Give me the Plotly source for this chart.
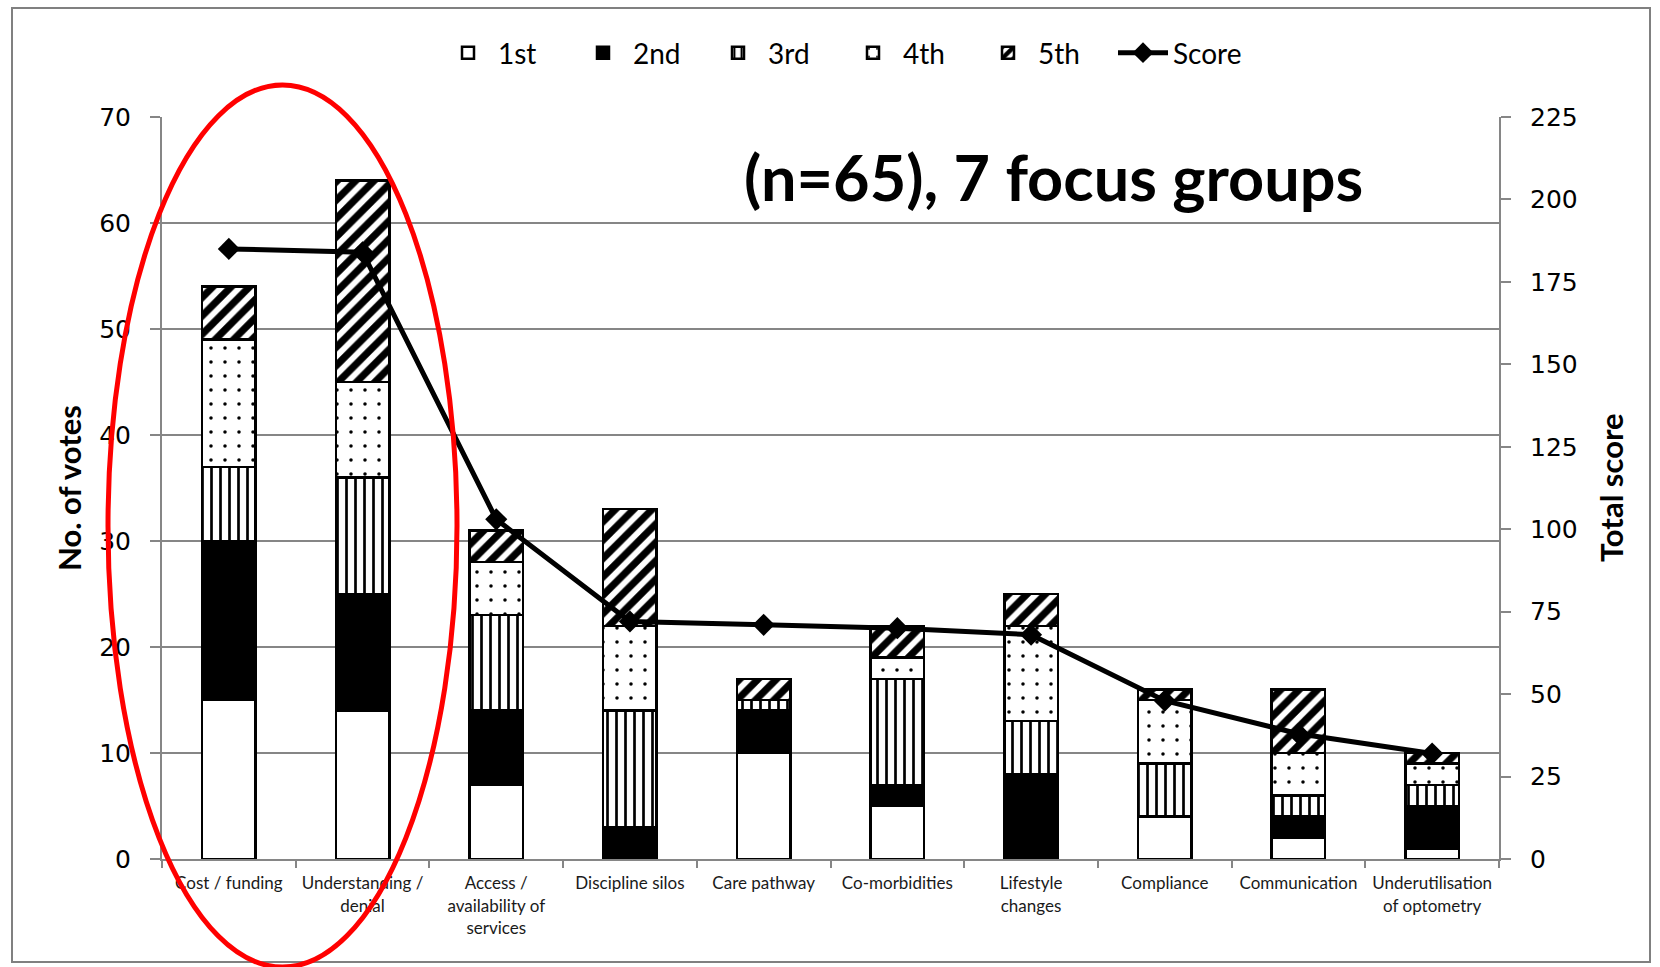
import plotly.graph_objects as go

# Barrier categories (x axis)
categories = [
    "Cost / funding",
    "Understanding /<br>denial",
    "Access /<br>availability of<br>services",
    "Discipline silos",
    "Care pathway",
    "Co-morbidities",
    "Lifestyle<br>changes",
    "Compliance",
    "Communication",
    "Underutilisation<br>of optometry",
]

# Number of votes at each ranking position
votes_1st = [15, 14, 7, 0, 10, 5, 0, 4, 2, 1]
votes_2nd = [15, 11, 7, 3, 4, 2, 8, 0, 2, 4]
votes_3rd = [7, 11, 9, 11, 1, 10, 5, 5, 2, 2]
votes_4th = [12, 9, 5, 8, 0, 2, 9, 6, 4, 2]
votes_5th = [5, 19, 3, 11, 2, 3, 3, 1, 6, 1]

# Weighted total score per category (right axis)
total_score = [185, 184, 103, 72, 71, 70, 68, 48, 38, 32]

left_ticks = list(range(0, 71, 10))
right_ticks = list(range(0, 226, 25))

# Plot area geometry in pixels
W, H = 1660, 967
PL, PR, PT, PB = 162, 1499, 117, 859


def px_x(x):
    return (x - PL) / (PR - PL)


def px_y(y):
    return (PB - y) / (PB - PT)


GRID = "#868686"
LABEL_FONT = "Lato"
NUM_FONT = "DejaVu Sans"

fig = go.Figure()

rank_series = [
    ("1st", votes_1st, dict(color="white")),
    ("2nd", votes_2nd, dict(color="black")),
    ("3rd", votes_3rd, dict(color="white", pattern=dict(shape="|", fgcolor="black", bgcolor="white", fgopacity=1, size=9, solidity=0.3))),
    ("4th", votes_4th, dict(color="white", pattern=dict(shape=".", fgcolor="black", bgcolor="white", fgopacity=1, size=14, solidity=0.05))),
    ("5th", votes_5th, dict(color="white", pattern=dict(shape="/", fgcolor="black", bgcolor="white", fgopacity=1, size=13, solidity=0.55))),
]

for name, vals, mk in rank_series:
    mk = dict(mk)
    mk["line"] = dict(color="black", width=2.5)
    fig.add_trace(go.Bar(
        name=name,
        x=categories,
        y=vals,
        width=0.4,
        marker=mk,
        yaxis="y",
    ))

fig.add_trace(go.Scatter(
    name="Score",
    x=categories,
    y=total_score,
    mode="lines+markers",
    line=dict(color="black", width=5),
    marker=dict(symbol="diamond", size=17, color="black"),
    yaxis="y2",
))

fig.update_layout(
    width=W,
    height=H,
    margin=dict(l=PL, r=W - PR, t=PT, b=H - PB),
    paper_bgcolor="white",
    plot_bgcolor="white",
    barmode="stack",
    bargap=0.6,
    showlegend=True,
    legend=dict(
        orientation="h",
        x=px_x(843),
        y=px_y(53),
        xanchor="center",
        yanchor="middle",
        font=dict(family=LABEL_FONT, size=28, color="black"),
        itemwidth=50,
        entrywidth=70,
        entrywidthmode="pixels",
        traceorder="normal",
        bgcolor="rgba(0,0,0,0)",
    ),
    xaxis=dict(
        type="category",
        range=[-0.5, 9.5],
        tickson="boundaries",
        ticks="outside",
        ticklen=7,
        tickwidth=2,
        tickcolor=GRID,
        ticklabelstandoff=8,
        showline=True,
        linecolor=GRID,
        linewidth=2,
        showgrid=False,
        tickangle=0,
        tickfont=dict(family=LABEL_FONT, size=17, color="#1a1a1a"),
    ),
    yaxis=dict(
        range=[0, 70],
        tickvals=left_ticks,
        ticks="outside",
        ticklen=10,
        tickwidth=2,
        tickcolor=GRID,
        ticklabelstandoff=14,
        showline=True,
        linecolor=GRID,
        linewidth=2,
        showgrid=True,
        gridcolor=GRID,
        gridwidth=2,
        zeroline=False,
        tickfont=dict(family=NUM_FONT, size=25, color="black"),
    ),
    yaxis2=dict(
        range=[0, 225],
        tickvals=right_ticks,
        overlaying="y",
        side="right",
        ticks="outside",
        ticklen=10,
        tickwidth=2,
        tickcolor=GRID,
        ticklabelstandoff=14,
        showline=True,
        linecolor=GRID,
        linewidth=2,
        showgrid=False,
        zeroline=False,
        tickfont=dict(family=NUM_FONT, size=25, color="black"),
    ),
)

# Axis titles and headline note
fig.add_annotation(
    text="<b>No. of votes</b>", xref="paper", yref="paper",
    x=px_x(69), y=px_y(488), textangle=-90, showarrow=False,
    xanchor="center", yanchor="middle",
    font=dict(family=LABEL_FONT, size=31, color="black"),
)
fig.add_annotation(
    text="<b>Total score</b>", xref="paper", yref="paper",
    x=px_x(1611), y=px_y(488), textangle=-90, showarrow=False,
    xanchor="center", yanchor="middle",
    font=dict(family=LABEL_FONT, size=31, color="black"),
)
fig.add_annotation(
    text="<b>(n=65), 7 focus groups</b>", xref="paper", yref="paper",
    x=px_x(1053), y=px_y(176), showarrow=False,
    xanchor="center", yanchor="middle",
    font=dict(family=LABEL_FONT, size=63, color="black"),
)

# Outer frame and highlight ellipse
fig.add_shape(
    type="rect", xref="paper", yref="paper",
    x0=px_x(12), x1=px_x(1650), y0=px_y(8), y1=px_y(962),
    line=dict(color="#808080", width=2), fillcolor="rgba(0,0,0,0)", layer="below",
)
fig.add_shape(
    type="circle", xref="paper", yref="paper",
    x0=px_x(108), x1=px_x(457), y0=px_y(85), y1=px_y(967),
    line=dict(color="#ff0000", width=5), fillcolor="rgba(0,0,0,0)", layer="above",
)

fig.write_html("out.html")
